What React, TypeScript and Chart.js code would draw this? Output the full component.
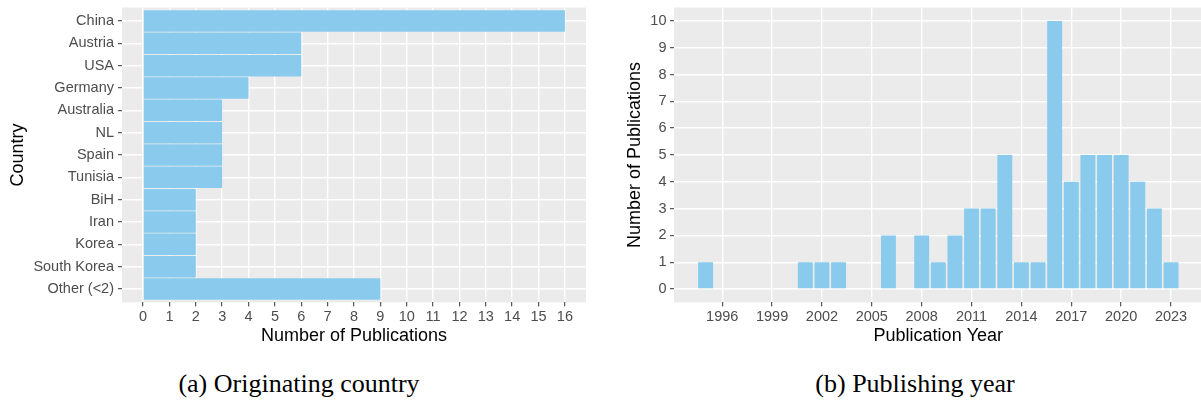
import React, { useEffect, useRef } from "react";
import { Chart, registerables } from "chart.js";

Chart.register(...registerables);

// ---- data ----
const countries = [
  "China",
  "Austria",
  "USA",
  "Germany",
  "Australia",
  "NL",
  "Spain",
  "Tunisia",
  "BiH",
  "Iran",
  "Korea",
  "South Korea",
  "Other (<2)",
];
const countryCounts = [16, 6, 6, 4, 3, 3, 3, 3, 2, 2, 2, 2, 9];
const countTicks = [0, 1, 2, 3, 4, 5, 6, 7, 8, 9, 10, 11, 12, 13, 14, 15, 16];

const years = [
  1995, 2001, 2002, 2003, 2006, 2008, 2009, 2010, 2011, 2012, 2013, 2014,
  2015, 2016, 2017, 2018, 2019, 2020, 2021, 2022, 2023,
];
const yearCounts = [1, 1, 1, 1, 2, 2, 1, 2, 3, 3, 5, 1, 1, 10, 4, 5, 5, 5, 4, 3, 1];
const yearTicks = [1996, 1999, 2002, 2005, 2008, 2011, 2014, 2017, 2020, 2023];
const pubTicks = [0, 1, 2, 3, 4, 5, 6, 7, 8, 9, 10];

// ---- styling ----
const SANS = "'Liberation Sans', Arial, sans-serif";
const SERIF = "'Liberation Serif', 'Times New Roman', serif";
const BAR = "#8ACBED";
const PANEL = "#EBEBEB";
const TICK_TEXT = "#4D4D4D";
const TICK_MARK = "#333333";

const panelBg = {
  id: "panelBg",
  beforeDraw(chart: any) {
    const { ctx, chartArea } = chart;
    ctx.save();
    ctx.fillStyle = PANEL;
    ctx.fillRect(chartArea.left, chartArea.top, chartArea.width, chartArea.height);
    ctx.restore();
  },
};

const gridOpts = {
  color: "#FFFFFF",
  lineWidth: 1.4,
  tickLength: 4,
  tickColor: TICK_MARK,
  tickWidth: 1,
  offset: false,
};
const tickFont = { family: SANS, size: 14.5 };
const titleFont = { family: SANS, size: 18 };

function CountryChart() {
  const ref = useRef<HTMLCanvasElement | null>(null);
  useEffect(() => {
    if (!ref.current) return;
    const chart = new Chart(ref.current, {
      type: "bar",
      data: {
        datasets: [
          {
            data: countryCounts.map((v, i) => ({ x: v, y: i })),
            backgroundColor: BAR,
            barPercentage: 0.96,
            categoryPercentage: 1,
          },
        ],
      },
      options: {
        indexAxis: "y",
        animation: false,
        responsive: false,
        layout: { padding: { left: 0, right: 14, top: 7.6, bottom: 0 } },
        plugins: { legend: { display: false }, tooltip: { enabled: false } },
        scales: {
          x: {
            type: "linear",
            position: "bottom",
            min: -0.8,
            max: 16.8,
            offset: false,
            afterBuildTicks: (s: any) => {
              s.ticks = countTicks.map((v) => ({ value: v }));
            },
            afterFit: (s: any) => {
              s.height = 47.6;
              s.paddingLeft = 0;
              s.paddingRight = 0;
            },
            grid: gridOpts,
            border: { display: false },
            ticks: {
              color: TICK_TEXT,
              font: tickFont,
              padding: 2,
              maxRotation: 0,
              autoSkip: false,
              callback: (v: any) => String(v),
            },
            title: {
              display: true,
              text: "Number of Publications",
              color: "#000000",
              font: titleFont,
              padding: { top: 0, bottom: 3 },
            },
          },
          y: {
            type: "linear",
            position: "left",
            reverse: true,
            min: -0.6,
            max: 12.6,
            offset: false,
            afterBuildTicks: (s: any) => {
              s.ticks = countries.map((_, i) => ({ value: i }));
            },
            afterFit: (s: any) => {
              s.width = 122;
              s.paddingTop = 0;
              s.paddingBottom = 0;
            },
            grid: gridOpts,
            border: { display: false },
            ticks: {
              color: TICK_TEXT,
              font: tickFont,
              padding: 4,
              autoSkip: false,
              callback: (v: any) => countries[v as number],
            },
            title: {
              display: true,
              text: "Country",
              color: "#000000",
              font: titleFont,
              padding: { top: 7, bottom: 0 },
            },
          },
        },
      } as any,
      plugins: [panelBg],
    });
    return () => chart.destroy();
  }, []);
  return <canvas ref={ref} width={600} height={350} style={{ width: 600, height: 350, display: "block" }} />;
}

function YearChart() {
  const ref = useRef<HTMLCanvasElement | null>(null);
  useEffect(() => {
    if (!ref.current) return;
    const chart = new Chart(ref.current, {
      type: "bar",
      data: {
        datasets: [
          {
            data: years.map((y, i) => ({ x: y, y: yearCounts[i] })),
            backgroundColor: BAR,
            barPercentage: 0.9,
            categoryPercentage: 1,
          },
        ],
      },
      options: {
        animation: false,
        responsive: false,
        layout: { padding: { left: 0, right: 17.4, top: 7.6, bottom: 0 } },
        plugins: { legend: { display: false }, tooltip: { enabled: false } },
        scales: {
          x: {
            type: "linear",
            position: "bottom",
            min: 1993.1,
            max: 2024.9,
            offset: false,
            afterBuildTicks: (s: any) => {
              s.ticks = yearTicks.map((v) => ({ value: v }));
            },
            afterFit: (s: any) => {
              s.height = 47.6;
              s.paddingLeft = 0;
              s.paddingRight = 0;
            },
            grid: gridOpts,
            border: { display: false },
            ticks: {
              color: TICK_TEXT,
              font: tickFont,
              padding: 2,
              maxRotation: 0,
              autoSkip: false,
              callback: (v: any) => String(v),
            },
            title: {
              display: true,
              text: "Publication Year",
              color: "#000000",
              font: titleFont,
              padding: { top: 0, bottom: 3 },
            },
          },
          y: {
            type: "linear",
            position: "left",
            min: -0.5,
            max: 10.5,
            afterBuildTicks: (s: any) => {
              s.ticks = pubTicks.map((v) => ({ value: v }));
            },
            afterFit: (s: any) => {
              s.width = 74;
              s.paddingTop = 0;
              s.paddingBottom = 0;
            },
            grid: gridOpts,
            border: { display: false },
            ticks: {
              color: TICK_TEXT,
              font: tickFont,
              padding: 3.5,
              autoSkip: false,
              callback: (v: any) => String(v),
            },
            title: {
              display: true,
              text: "Number of Publications",
              color: "#000000",
              font: titleFont,
              padding: { top: 24, bottom: 0 },
            },
          },
        },
      } as any,
      plugins: [panelBg],
    });
    return () => chart.destroy();
  }, []);
  return <canvas ref={ref} width={620} height={350} style={{ width: 620, height: 350, display: "block" }} />;
}

export default function App() {
  const caption: React.CSSProperties = {
    position: "absolute",
    top: 369,
    fontFamily: SERIF,
    fontSize: 26,
    lineHeight: "30px",
    color: "#000",
    textAlign: "center",
    whiteSpace: "nowrap",
  };
  return (
    <div
      style={{
        position: "absolute",
        left: 0,
        top: 0,
        width: 1201,
        height: 403,
        overflow: "hidden",
        background: "#fff",
      }}
    >
      <div style={{ position: "absolute", left: 0, top: 0 }}>
        <CountryChart />
      </div>
      <div style={{ position: "absolute", left: 600, top: 0 }}>
        <YearChart />
      </div>
      <div style={{ ...caption, left: 0, width: 598 }}>(a) Originating country</div>
      <div style={{ ...caption, left: 600, width: 630 }}>(b) Publishing year</div>
    </div>
  );
}
